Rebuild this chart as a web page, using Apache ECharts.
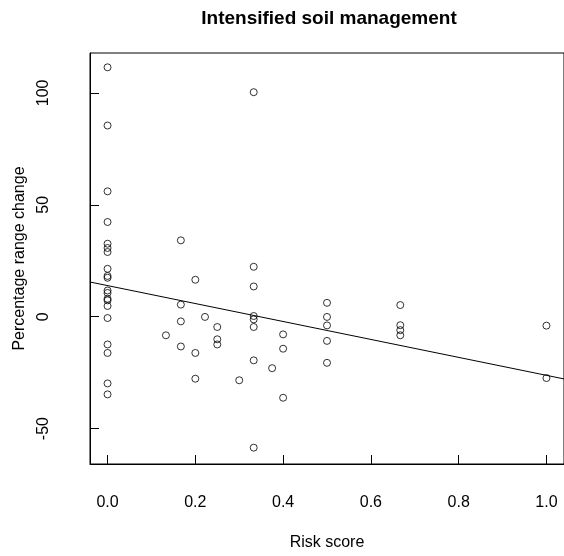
<!DOCTYPE html>
<html>
<head>
<meta charset="utf-8">
<script src="https://cdn.jsdelivr.net/npm/echarts@6/dist/echarts.min.js"></script>
<style>
html,body{margin:0;padding:0;background:#fff;}
#chart{width:564px;height:556px;}
</style>
</head>
<body>
<div id="chart"></div>
<script>
// Risk score (x) and percentage range change (y)
var riskScore = [
  0,0,0,0,0,0,0,0,0,0,0,0,0,0,0,0,0,0,0,0,
  0.133,
  0.167,0.167,0.167,0.167,
  0.2,0.2,0.2,
  0.222,
  0.25,0.25,0.25,
  0.3,
  0.333,0.333,0.333,0.333,0.333,0.333,0.333,0.333,
  0.375,
  0.4,0.4,0.4,
  0.5,0.5,0.5,0.5,0.5,
  0.667,0.667,0.667,0.667,
  1.0,1.0
];
var rangeChange = [
  111.4,85.4,56.0,42.3,32.6,30.7,28.9,21.4,18.2,17.4,11.7,10.6,8.0,7.3,4.8,-0.6,-12.4,-16.2,-29.8,-34.7,
  -8.3,
  34.1,5.4,-2.1,-13.3,
  16.5,-16.2,-27.7,
  -0.1,
  -4.6,-10.1,-12.4,
  -28.4,
  100.3,22.3,13.5,0.3,-1.2,-4.6,-19.5,-58.5,
  -23.0,
  -7.9,-14.3,-36.2,
  6.2,-0.1,-3.9,-10.8,-20.6,
  5.2,-3.8,-6.0,-8.3,
  -4.0,-27.4
];
// fitted regression line, read at the plot edges
var fitX = [-0.04, 1.04];
var fitY = [15.5, -27.8];

var xTicks = [0, 0.2, 0.4, 0.6, 0.8, 1.0];
var yTicks = [-50, 0, 50, 100];

var titleText = 'Intensified soil management';
var xName = 'Risk score';
var yName = 'Percentage range change';

var points = riskScore.map(function (x, i) { return [x, rangeChange[i]]; });
var fitLine = fitX.map(function (x, i) { return [x, fitY[i]]; });

var FONT = '"Liberation Sans", Arial, sans-serif';
var chart = echarts.init(document.getElementById('chart'), null, {renderer: 'canvas'});
chart.setOption({
  animation: false,
  backgroundColor: '#fff',
  title: {
    text: titleText,
    left: 324, top: 4, textAlign: 'center',
    textStyle: {fontFamily: FONT, fontWeight: 'bold', fontSize: 19, color: '#000'}
  },
  grid: {
    left: 90, top: 53, width: 476, height: 411,
    show: true, borderColor: '#000', borderWidth: 1, backgroundColor: 'transparent'
  },
  xAxis: {
    type: 'value', min: -0.04, max: 1.04, position: 'bottom',
    splitLine: {show: false},
    axisLine: {show: true, onZero: false, lineStyle: {color: '#000', width: 1}},
    axisTick: {show: true, length: 9, inside: true, customValues: xTicks, lineStyle: {color: '#000', width: 1}},
    axisLabel: {
      show: true, customValues: xTicks, margin: 31,
      formatter: function (v) { return v.toFixed(1); },
      fontFamily: FONT, fontSize: 16, color: '#000'
    },
    name: xName, nameLocation: 'middle', nameGap: 71,
    nameTextStyle: {fontFamily: FONT, fontSize: 16, color: '#000'}
  },
  yAxis: {
    type: 'value', min: -65.8, max: 117.8, position: 'left',
    splitLine: {show: false},
    axisLine: {show: true, onZero: false, lineStyle: {color: '#000', width: 1}},
    axisTick: {show: true, length: 9, inside: true, customValues: yTicks, lineStyle: {color: '#000', width: 1}},
    axisLabel: {
      show: true, customValues: yTicks, margin: 38, rotate: 90,
      fontFamily: FONT, fontSize: 16, color: '#000'
    },
    name: yName, nameLocation: 'middle', nameGap: 62, nameRotate: 90,
    nameTextStyle: {fontFamily: FONT, fontSize: 16, color: '#000'}
  },
  series: [
    {
      type: 'scatter', data: points, symbol: 'circle', symbolSize: 7,
      itemStyle: {color: 'rgba(0,0,0,0)', borderColor: '#000', borderWidth: 1},
      silent: true
    },
    {
      type: 'line', data: fitLine, symbol: 'none', clip: true,
      lineStyle: {color: '#000', width: 1}, silent: true
    }
  ]
});
</script>
</body>
</html>
